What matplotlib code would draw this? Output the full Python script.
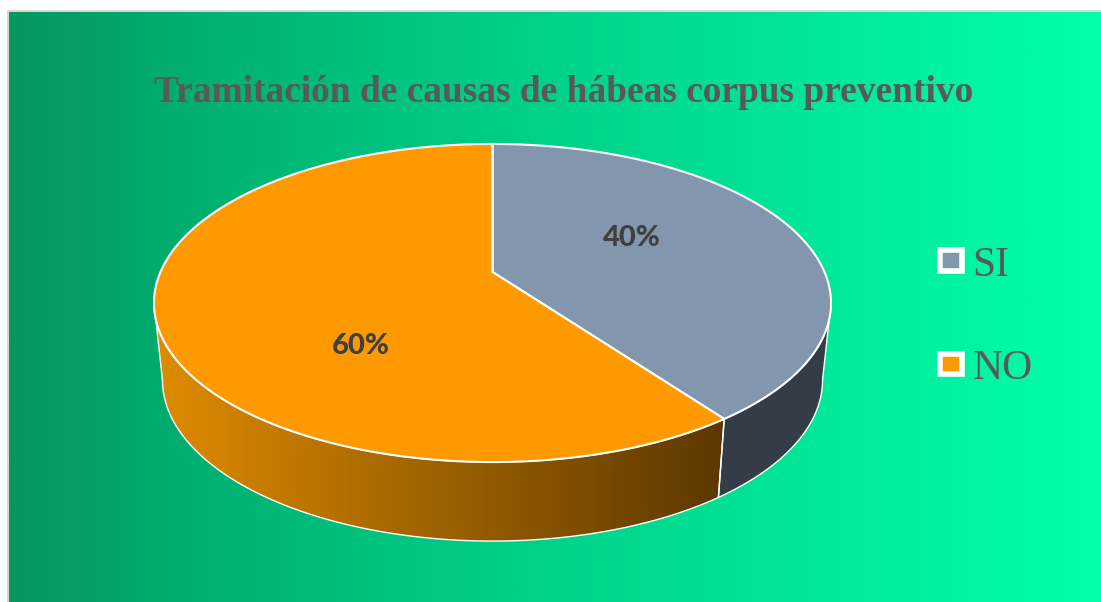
import numpy as np
import matplotlib
matplotlib.use('Agg')
import matplotlib.pyplot as plt
from matplotlib.colors import LinearSegmentedColormap
from matplotlib.patches import Patch, Polygon
from matplotlib.path import Path
from matplotlib.transforms import Transform

title = 'Tramitación de causas de hábeas corpus preventivo'
labels = ['SI', 'NO']
values = [40, 60]
colors = ['#8296AE', '#FF9900']

# perspective of the tilted disc, in pixels
CX, CY = 492.5, 272
K = 0.195
SX, SY = 332, 153


def project(x, y):
    d = 1 + K * y
    return CX + SX * x / d, CY - SY * y / d


class Tilt(Transform):
    input_dims = 2
    output_dims = 2
    is_affine = False

    def transform_non_affine(self, values):
        px, py = project(values[:, 0], values[:, 1])
        return np.column_stack([px, py])

    def transform_path_non_affine(self, path):
        # flatten at a large scale, the unit circle gives too few points otherwise
        big = Path(path.vertices * 2000, path.codes)
        flat = big.to_polygons(closed_only=False)[0] / 2000
        return Path(self.transform_non_affine(flat))


def top_rim(deg):
    a = np.radians(deg)
    return project(np.sin(a), np.cos(a))


def bottom_rim(deg):
    # lower edge of the side wall
    px, py = top_rim(deg)
    return CX + (px - CX) * 0.975, 303 + (py - 303) * 1.0126 + 77


fig = plt.figure(figsize=(11.01, 6.02), dpi=100, facecolor='white')
ax = fig.add_axes([0, 0, 1, 1])

# slices first, pie() resets the limits
wedges, _, pcts = ax.pie(values, colors=colors, startangle=90, counterclock=False,
                         autopct='%1.0f%%', radius=1,
                         wedgeprops={'edgecolor': 'white', 'linewidth': 1.5, 'zorder': 5})
ax.set_aspect('auto')
ax.set_xlim(0, 1101)
ax.set_ylim(602, 0)
ax.axis('off')
tilt = Tilt() + ax.transData
for w in wedges:
    w.set_transform(tilt)
    w.set_clip_on(False)

# background
green = LinearSegmentedColormap.from_list('green', [
    (0.0, '#07965F'), (0.17, '#00B071'), (0.40, '#00C983'),
    (0.70, '#00E497'), (1.0, '#00FFAA')])
ax.add_patch(Polygon([[7, 10], [1101, 10], [1101, 602], [7, 602]], fc='#D9D9D9', ec='none', zorder=0))
ax.imshow(np.linspace(0, 1, 512)[None, :], cmap=green, extent=(9, 1101, 602, 12),
          aspect='auto', zorder=1)

# side walls, only the part that faces the viewer
edges = 360 * np.cumsum([0] + values) / sum(values)
limit = np.degrees(np.arccos(-K))
wall_ranges = [(limit, edges[1]), (edges[1], 360 - limit)]
orange_wall = LinearSegmentedColormap.from_list('wall', ['#E08C00', '#5C3800'])
for i, (a, b) in enumerate(wall_ranges):
    deg = np.linspace(a, b, 200)
    tx, ty = top_rim(deg)
    bx, by = bottom_rim(deg)
    pts = np.vstack([np.column_stack([tx, ty]), np.column_stack([bx, by])[::-1]])
    if i == 0:
        ax.add_patch(Polygon(pts, fc='#343C47', ec='white', lw=1.0, zorder=3))
    else:
        ax.add_patch(Polygon(pts, fc='none', ec='white', lw=1.0, zorder=3))
        shade = ax.imshow(np.linspace(0, 1, 256)[None, :], cmap=orange_wall,
                          extent=(150, 725, 602, 0), aspect='auto', zorder=2)
        shade.set_clip_path(Polygon(pts, transform=ax.transData))
ax.set_xlim(0, 1101)
ax.set_ylim(602, 0)

pct_pos = [(632, 238), (361, 346)]
for t, pos in zip(pcts, pct_pos):
    t.set_position(pos)
    t.set(family='Lato', fontweight='black', fontsize=21, color='#404040',
          ha='center', va='center', zorder=6)

ax.text(564, 92, title, family='Liberation Serif', fontweight='bold', fontsize=26.95,
        color='#595959', ha='center', va='center', zorder=6)

handles = [Patch(facecolor=c, edgecolor='white', linewidth=4, joinstyle='round') for c in colors]
ax.legend(handles, labels, loc='center left', bbox_to_anchor=(940, 317),
          bbox_transform=ax.transData, frameon=False, borderpad=0, borderaxespad=0,
          prop={'family': 'Liberation Serif', 'size': 30}, labelcolor='#595959',
          handlelength=0.52, handleheight=0.39, handletextpad=0.26, labelspacing=1.55)

fig.savefig('out.png', dpi=100)
